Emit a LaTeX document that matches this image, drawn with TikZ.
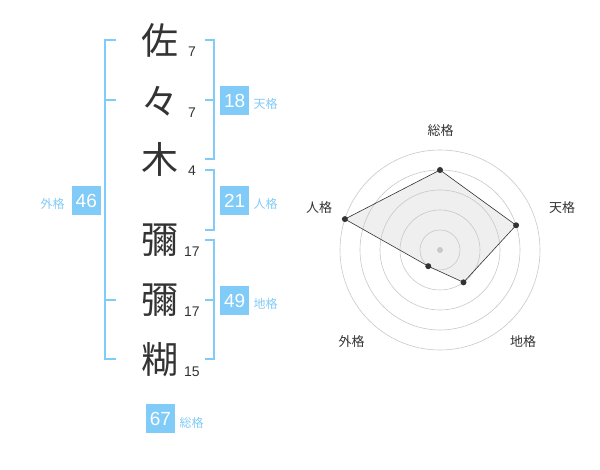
\documentclass[tikz,border=0pt]{standalone}
\usepackage{fontspec}
\setmainfont{Liberation Sans}
\newfontfamily\jpfont{Noto Sans CJK JP}
\definecolor{ink}{HTML}{333333}
\definecolor{sky}{HTML}{80CBF7}
\definecolor{ringgray}{HTML}{C8C8C8}
\definecolor{area}{HTML}{EFEFEF}

\begin{document}
\begin{tikzpicture}[x=1pt,y=1pt]
		\tikzstyle{kanji}=[font=\jpfont\fontsize{37}{37}\selectfont,text=ink,inner sep=0pt]
		\tikzstyle{strokes}=[font=\fontsize{14}{14}\selectfont,text=ink,inner sep=0pt]
		\tikzstyle{bracket}=[draw=sky,line width=2pt]
		\tikzstyle{score}=[fill=sky,text=white,minimum size=29pt,inner sep=0pt,font=\fontsize{19}{19}\selectfont]
		\tikzstyle{kakuname}=[text=sky,font=\jpfont\fontsize{12}{12}\selectfont,inner sep=0pt]
		\tikzstyle{ring}=[draw=ringgray,line width=0.6pt]
		\tikzstyle{vertex}=[circle,fill=ink,minimum size=6pt,inner sep=0pt]
		\tikzstyle{axislabel}=[text=ink,font=\jpfont\fontsize{13}{13}\selectfont,inner sep=0pt]

		\useasboundingbox (0,0) rectangle (600,470);

		% name and stroke counts
		\foreach \ch/\y/\st/\i in {佐/430/7/1,々/369/7/2,木/311/4/3,彌/230/17/4,彌/170/17/5,糊/110/15/6}
		{
		  \node[kanji](k\i) at (160,\y){\ch};
		  \node[strokes](s\i) at (192,\y-12){\st};
		}

		% brackets
		\draw[bracket] (116,430) -- (105,430) -- (105,111) -- (116,111);
		\draw[bracket] (105,370) -- (116,370);
		\draw[bracket] (105,170) -- (116,170);

		\draw[bracket] (205,430) -- (214,430) -- (214,311) -- (205,311);
		\draw[bracket] (205,370) -- (214,370);
		\draw[bracket] (205,300) -- (214,300) -- (214,240) -- (205,240);
		\draw[bracket] (205,230) -- (214,230) -- (214,111) -- (205,111);
		\draw[bracket] (205,170) -- (214,170);

		\node[score](ten) at (234.7,369.5){18};
		\node[score](jin) at (234.7,269.5){21};
		\node[score](chi) at (234.7,169.5){49};
		\node[score](gai) at (86.3,269.5){46};
		\node[score](so) at (160.5,51){67};

		\node[kakuname](tenname) at (265.7,366){天格};
		\node[kakuname](jinname) at (265.7,266){人格};
		\node[kakuname](chiname) at (265.7,166){地格};
		\node[kakuname](gainame) at (52.7,266){外格};
		\node[kakuname](soname) at (191.7,47.3){総格};

		% radar chart
		\coordinate (o) at (440,220);
		\foreach \a/\v/\i in {90/4/1,18/4/2,-54/2/3,-126/1/4,162/5/5}
		{
		  \path (o) ++(\a:\v*20) coordinate (p\i);
		}
		\fill[area] (p1) -- (p2) -- (p3) -- (p4) -- (p5) -- cycle;
		\foreach \r in {20,40,...,100}
		{
		  \draw[ring] (o) circle (\r);
		}
		\fill[ringgray] (o) circle (3);
		\draw[ink,line width=0.6pt] (p1) -- (p2) -- (p3) -- (p4) -- (p5) -- cycle;
		\foreach \i in {1,...,5}
		{
		  \node[vertex](v\i) at (p\i){};
		}

		\node[axislabel](a1) at (440.7,339.3){総格};
		\node[axislabel](a2) at (562,262){天格};
		\node[axislabel](a3) at (523,128.3){地格};
		\node[axislabel](a4) at (351.7,128.3){外格};
		\node[axislabel](a5) at (319,262){人格};

\end{tikzpicture}
\end{document}
